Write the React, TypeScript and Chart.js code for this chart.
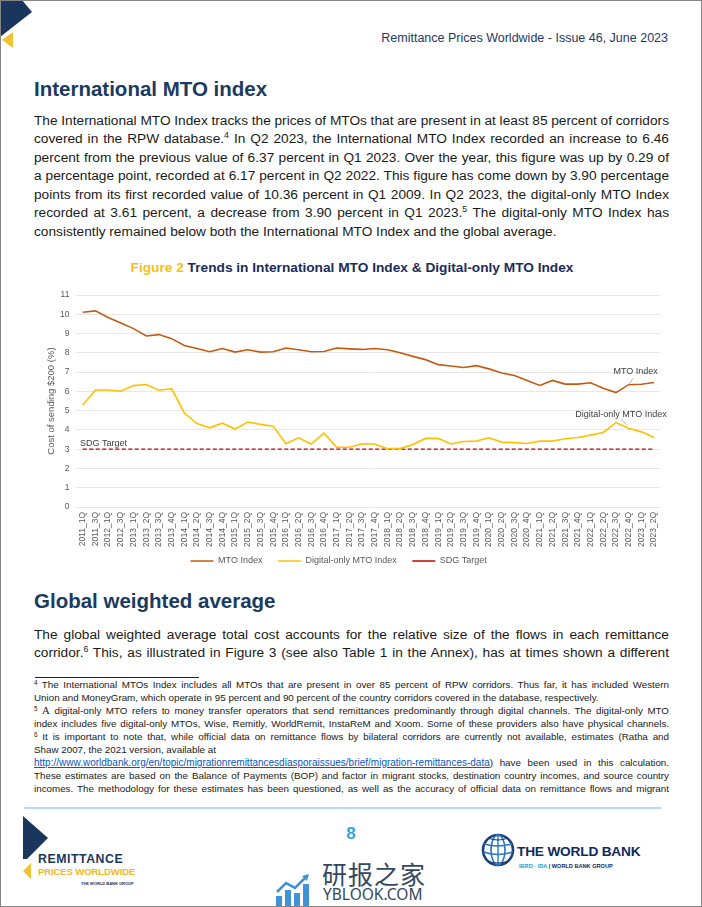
import React, { useEffect, useLayoutEffect, useRef } from 'react';
import { Chart, registerables } from 'chart.js';

Chart.register(...registerables);

const FONT = '"Liberation Sans", Arial, Helvetica, sans-serif';

// ---------- chart data ----------
const categories = [
  '2011_1Q', '2011_3Q', '2012_1Q', '2012_3Q',
  '2013_1Q', '2013_2Q', '2013_3Q', '2013_4Q',
  '2014_1Q', '2014_2Q', '2014_3Q', '2014_4Q',
  '2015_1Q', '2015_2Q', '2015_3Q', '2015_4Q',
  '2016_1Q', '2016_2Q', '2016_3Q', '2016_4Q',
  '2017_1Q', '2017_2Q', '2017_3Q', '2017_4Q',
  '2018_1Q', '2018_2Q', '2018_3Q', '2018_4Q',
  '2019_1Q', '2019_2Q', '2019_3Q', '2019_4Q',
  '2020_1Q', '2020_2Q', '2020_3Q', '2020_4Q',
  '2021_1Q', '2021_2Q', '2021_3Q', '2021_4Q',
  '2022_1Q', '2022_2Q', '2022_3Q', '2022_4Q',
  '2023_1Q', '2023_2Q',
];

const mtoIndex = [
  10.11, 10.18, 9.84, 9.55,
  9.26, 8.88, 8.95, 8.74,
  8.38, 8.23, 8.06, 8.23,
  8.04, 8.16, 8.04, 8.06,
  8.25, 8.16, 8.06, 8.07,
  8.25, 8.21, 8.18, 8.23,
  8.16, 8.01, 7.82, 7.65,
  7.39, 7.32, 7.24, 7.34,
  7.17, 6.96, 6.83, 6.57,
  6.31, 6.57, 6.38, 6.38,
  6.45, 6.17, 5.94, 6.35,
  6.37, 6.46,
];

const digitalOnlyIndex = [
  5.29, 6.07, 6.07, 6.01,
  6.30, 6.36, 6.06, 6.14,
  4.88, 4.33, 4.11, 4.35,
  4.05, 4.41, 4.29, 4.19,
  3.28, 3.59, 3.27, 3.83,
  3.11, 3.10, 3.28, 3.27,
  3.03, 3.03, 3.25, 3.56,
  3.56, 3.27, 3.40, 3.42,
  3.59, 3.37, 3.34, 3.30,
  3.42, 3.42, 3.54, 3.61,
  3.73, 3.87, 4.38, 4.09,
  3.90, 3.61,
];

const sdgTarget = [
  3, 3, 3, 3, 3, 3, 3, 3, 3, 3, 3, 3, 3, 3, 3, 3, 3, 3, 3, 3, 3, 3, 3,
  3, 3, 3, 3, 3, 3, 3, 3, 3, 3, 3, 3, 3, 3, 3, 3, 3, 3, 3, 3, 3, 3, 3,
];

const yTicks = [0, 1, 2, 3, 4, 5, 6, 7, 8, 9, 10, 11];

const seriesNames = ['MTO Index', 'Digital-only MTO Index', 'SDG Target'];

// ---------- chart ----------
const labelPlugin = {
  id: 'seriesLabels',
  afterDatasetsDraw(chart: any) {
    const { ctx, chartArea, scales } = chart;
    const x = scales.x;
    const y = scales.y;
    ctx.save();
    ctx.font = `9px ${FONT}`;
    ctx.fillStyle = '#404040';
    // SDG target label
    ctx.textAlign = 'left';
    ctx.textBaseline = 'alphabetic';
    ctx.fillText('SDG Target', chartArea.left + 3.5, y.getPixelForValue(sdgTarget[0]) - 3.5);

    // MTO Index label
    const iM = categories.indexOf('2022_4Q');
    const mx = x.getPixelForValue(iM);
    const my = y.getPixelForValue(mtoIndex[iM]);
    ctx.strokeStyle = '#a6a6a6';
    ctx.lineWidth = 0.8;
    ctx.beginPath();
    ctx.moveTo(mx, my);
    ctx.lineTo(mx + 4.5, my - 6.5);
    ctx.stroke();
    ctx.textAlign = 'center';
    ctx.textBaseline = 'middle';
    ctx.fillText('MTO Index', mx + 7, my - 13);

    // Digital-only label
    const iD = categories.indexOf('2022_3Q');
    const dx = x.getPixelForValue(iD);
    const dy = y.getPixelForValue(digitalOnlyIndex[iD]);
    ctx.beginPath();
    ctx.moveTo(dx + 5, dy - 3);
    ctx.lineTo(dx + 11.5, dy + 2.5);
    ctx.stroke();
    ctx.fillText('Digital-only MTO Index', dx + 5, dy - 8.5);
    ctx.restore();
  },
};

function TrendChart() {
  const ref = useRef<HTMLCanvasElement>(null);
  useEffect(() => {
    if (!ref.current) return;
    const chart = new Chart(ref.current, {
      type: 'line',
      data: {
        labels: categories,
        datasets: [
          {
            label: seriesNames[0],
            data: mtoIndex,
            borderColor: '#c55a11',
            backgroundColor: '#c55a11',
            borderWidth: 1.6,
            pointRadius: 0,
            tension: 0,
          },
          {
            label: seriesNames[1],
            data: digitalOnlyIndex,
            borderColor: '#ffc000',
            backgroundColor: '#ffc000',
            borderWidth: 1.6,
            pointRadius: 0,
            tension: 0,
          },
          {
            label: seriesNames[2],
            data: sdgTarget,
            borderColor: '#c00000',
            backgroundColor: '#c00000',
            borderWidth: 1.3,
            borderDash: [4, 2.5],
            pointRadius: 0,
            tension: 0,
          },
        ],
      },
      options: {
        animation: false,
        responsive: false,
        maintainAspectRatio: false,
        events: [],
        layout: { padding: { left: 0, right: 20.6, top: 9.7, bottom: 0.5 } },
        plugins: {
          legend: {
            position: 'bottom',
            labels: {
              usePointStyle: true,
              pointStyle: 'line',
              pointStyleWidth: 23,
              boxWidth: 23,
              boxHeight: 9,
              padding: 5.5,
              color: '#595959',
              font: { size: 9, family: FONT },
              generateLabels: (chart: any) => {
                const items = (Chart as any).defaults.plugins.legend.labels.generateLabels(chart);
                items.forEach((it: any, i: number) => {
                  if (i < items.length - 1) it.text = it.text + '\u00a0\u00a0\u00a0\u00a0';
                });
                return items;
              },
            },
          },
          tooltip: { enabled: false },
        },
        scales: {
          x: {
            type: 'category',
            offset: true,
            grid: { display: false, drawTicks: false },
            border: { display: false },
            ticks: {
              autoSkip: false,
              minRotation: 90,
              maxRotation: 90,
              padding: 5,
              color: '#595959',
              font: { size: 8.5, family: FONT },
            },
            afterFit: (s: any) => {
              s.height = 44;
            },
          },
          y: {
            min: yTicks[0],
            max: yTicks[yTicks.length - 1],
            afterBuildTicks: (s: any) => {
              s.ticks = yTicks.map((v) => ({ value: v }));
            },
            grid: { color: '#e7e7e7', drawTicks: false, lineWidth: 1 },
            border: { display: false },
            ticks: {
              padding: 7,
              color: '#595959',
              font: { size: 8.5, family: FONT },
            },
            title: {
              display: true,
              text: 'Cost of sending $200 (%)',
              color: '#595959',
              font: { size: 9.5, family: FONT },
              padding: { top: 28.3, bottom: 0 },
            },
            afterFit: (s: any) => {
              s.width = 59.4;
            },
          },
        },
      },
      plugins: [labelPlugin],
    } as any);
    return () => chart.destroy();
  }, []);
  return (
    <canvas
      ref={ref}
      width={664}
      height={293}
      style={{ position: 'absolute', left: 16, top: 282, width: 664, height: 293 }}
    />
  );
}

// ---------- page text helpers ----------
function JLine({ children, width, justify, lh }: any) {
  const ref = useRef<HTMLSpanElement>(null);
  useLayoutEffect(() => {
    const el = ref.current;
    if (!el) return;
    el.style.wordSpacing = '0px';
    if (!justify) return;
    const w = el.getBoundingClientRect().width;
    const n = (el.textContent || '').split(' ').length - 1;
    if (n > 0) el.style.wordSpacing = `${(width - w) / n}px`;
  }, [width, justify]);
  return (
    <div style={{ whiteSpace: 'nowrap', height: lh, lineHeight: `${lh}px`, width }}>
      <span ref={ref}>{children}</span>
    </div>
  );
}

function Block({ lines, justify, left, top, width, lh, fontSize, color }: any) {
  return (
    <div
      style={{
        position: 'absolute',
        left,
        top,
        width,
        fontSize,
        color,
        fontFamily: FONT,
      }}
    >
      {lines.map((l: any, i: number) => (
        <JLine key={i} width={width} lh={lh} justify={justify[i]}>
          {l}
        </JLine>
      ))}
    </div>
  );
}

const Sup = ({ n }: { n: string }) => (
  <sup style={{ fontSize: '0.64em', lineHeight: 0, verticalAlign: '0.55em' }}>{n}</sup>
);

const abs = (s: any): any => ({ position: 'absolute', ...s });

function Globe() {
  return (
    <svg width={36} height={36} viewBox="0 0 36 36" style={abs({ left: 479, top: 831 })}>
      <circle cx="18" cy="18" r="15" fill="none" stroke="#1d3f7c" strokeWidth="2.6" />
      <ellipse cx="18" cy="18" rx="7" ry="15" fill="none" stroke="#2b78c2" strokeWidth="1.6" />
      <line x1="18" y1="3" x2="18" y2="33" stroke="#2b78c2" strokeWidth="1.4" />
      <path d="M4 12 Q18 16 32 12" fill="none" stroke="#2b78c2" strokeWidth="1.4" />
      <path d="M3.5 20 Q18 25 32.5 20" fill="none" stroke="#2b78c2" strokeWidth="1.4" />
      <path d="M8 6 Q18 10 28 6" fill="none" stroke="#1d3f7c" strokeWidth="1.2" />
      <path d="M7 29 Q18 33 29 29" fill="none" stroke="#1d3f7c" strokeWidth="1.2" />
    </svg>
  );
}

function WatermarkIcon() {
  return (
    <svg width={36} height={34} viewBox="0 0 36 34" style={abs({ left: 274, top: 873 })}>
      <rect x="1" y="22" width="6" height="12" fill="#3f93d6" />
      <rect x="10" y="16" width="6" height="18" fill="#3f93d6" />
      <rect x="19" y="19" width="6" height="15" fill="#3f93d6" />
      <rect x="28" y="10" width="6" height="24" fill="#3f93d6" />
      <polyline points="2,18 11,9 20,14 31,3" fill="none" stroke="#3f93d6" strokeWidth="2.6" />
      <polygon points="27,2 34,0 32,7" fill="#3f93d6" />
    </svg>
  );
}

export default function App() {
  const body = '#1a1a1a';
  const navy = '#1b3a5f';
  const p1 = [
    <>The International MTO Index tracks the prices of MTOs that are present in at least 85 percent of corridors</>,
    <>covered in the RPW database.<Sup n="4" /> In Q2 2023, the International MTO Index recorded an increase to 6.46</>,
    <>percent from the previous value of 6.37 percent in Q1 2023. Over the year, this figure was up by 0.29 of</>,
    <>a percentage point, recorded at 6.17 percent in Q2 2022. This figure has come down by 3.90 percentage</>,
    <>points from its first recorded value of 10.36 percent in Q1 2009. In Q2 2023, the digital-only MTO Index</>,
    <>recorded at 3.61 percent, a decrease from 3.90 percent in Q1 2023.<Sup n="5" /> The digital-only MTO Index has</>,
    <>consistently remained below both the International MTO Index and the global average.</>,
  ];
  const p2 = [
    <>The global weighted average total cost accounts for the relative size of the flows in each remittance</>,
    <>corridor.<Sup n="6" /> This, as illustrated in Figure 3 (see also Table 1 in the Annex), has at times shown a different</>,
  ];
  const fn = [
    <><Sup n="4" /> The International MTOs Index includes all MTOs that are present in over 85 percent of RPW corridors. Thus far, it has included Western</>,
    <>Union and MoneyGram, which operate in 95 percent and 90 percent of the country corridors covered in the database, respectively.</>,
    <><Sup n="5" /> <span style={{ fontFamily: '"Liberation Serif", "Times New Roman", serif', fontSize: '1.1em' }}>A</span> digital-only MTO refers to money transfer operators that send remittances predominantly through digital channels. The digital-only MTO</>,
    <>index includes five digital-only MTOs, Wise, Remitly, WorldRemit, InstaReM and Xoom. Some of these providers also have physical channels.</>,
    <><Sup n="6" /> It is important to note that, while official data on remittance flows by bilateral corridors are currently not available, estimates (Ratha and</>,
    <>Shaw 2007, the 2021 version, available at</>,
    <><span style={{ color: '#0b56c4', textDecoration: 'underline', fontSize: 10 }}>http://www.worldbank.org/en/topic/migrationremittancesdiasporaissues/brief/migration-remittances-data</span>) have been used in this calculation.</>,
    <>These estimates are based on the Balance of Payments (BOP) and factor in migrant stocks, destination country incomes, and source country</>,
    <>incomes. The methodology for these estimates has been questioned, as well as the accuracy of official data on remittance flows and migrant</>,
  ];

  return (
    <div
      style={{
        position: 'absolute',
        left: 0,
        top: 0,
        width: 702,
        height: 907,
        boxSizing: 'border-box',
        border: '1px solid #858585',
        background: '#ffffff',
        overflow: 'hidden',
        fontFamily: FONT,
      }}
    >
      {/* top-left corner marks */}
      <svg width={40} height={60} style={abs({ left: -1, top: -1 })}>
        <polygon points="0,0 22,0 32,12 0,37" fill="#1b365d" />
        <polygon points="13,32 13,48 2,40" fill="#f2c232" />
      </svg>

      {/* running header */}
      <div style={abs({ right: 33, top: 30, fontSize: 12.5, lineHeight: '15px', color: '#1f3864', whiteSpace: 'nowrap' })}>
        Remittance Prices Worldwide - Issue 46, June 2023
      </div>

      <div style={abs({ left: 33, top: 75, fontSize: 20.5, lineHeight: '26px', fontWeight: 700, color: navy, whiteSpace: 'nowrap' })}>
        International MTO index
      </div>

      <Block lines={p1} justify={[true, true, true, true, true, true, false]} left={33} top={110.5} width={635} lh={18.5} fontSize={13.7} color={body} />

      <div style={abs({ left: 0, width: 702, top: 258, textAlign: 'center', fontSize: 13.7, lineHeight: '17px', fontWeight: 700, color: '#1c2c5b', whiteSpace: 'nowrap' })}>
        <span style={{ color: '#f5bf18' }}>Figure 2</span> Trends in International MTO Index &amp; Digital-only MTO Index
      </div>

      <TrendChart />

      <div style={abs({ left: 33, top: 587, fontSize: 20.5, lineHeight: '26px', fontWeight: 700, color: navy, whiteSpace: 'nowrap' })}>
        Global weighted average
      </div>

      <Block lines={p2} justify={[true, true]} left={33} top={624.5} width={635} lh={18.5} fontSize={13.7} color={body} />

      <div style={abs({ left: 34, top: 676, width: 164, height: 1, background: '#222' })} />

      <Block lines={fn} justify={[true, false, true, true, true, false, true, true, true]} left={33} top={677} width={635} lh={13} fontSize={9.8} color={body} />

      <div style={abs({ left: 23, top: 806, width: 637, height: 1.5, background: '#bcd8ef' })} />

      {/* left footer logo */}
      <svg width={30} height={70} style={abs({ left: 21, top: 814 })}>
        <polygon points="1,1 26,23 5,44 1,44" fill="#1b365d" />
        <polygon points="9,48 9,64 1,56" fill="#f2c232" />
      </svg>
      <div style={abs({ left: 37, top: 851, fontSize: 12.3, lineHeight: '14px', fontWeight: 700, color: '#1b365d', letterSpacing: '0.55px', whiteSpace: 'nowrap' })}>
        REMITTANCE
      </div>
      <div style={abs({ left: 37, top: 865, fontSize: 9.6, lineHeight: '11px', fontWeight: 700, color: '#f2b81f', letterSpacing: '-0.15px', whiteSpace: 'nowrap' })}>
        PRICES WORLDWIDE
      </div>
      <div style={abs({ left: 80, top: 880, fontSize: 4, lineHeight: '5px', fontWeight: 700, color: '#1b365d', whiteSpace: 'nowrap' })}>
        THE WORLD BANK GROUP
      </div>

      {/* page number */}
      <div style={abs({ left: 330, width: 40, top: 822, textAlign: 'center', fontSize: 17, lineHeight: '22px', fontWeight: 700, color: '#29a8e0' })}>
        8
      </div>

      {/* World Bank logo */}
      <Globe />
      <div style={abs({ left: 516, top: 842, fontSize: 13.7, lineHeight: '17px', fontWeight: 700, color: '#0d2b5c', letterSpacing: '-0.2px', whiteSpace: 'nowrap' })}>
        THE WORLD BANK
      </div>
      <div style={abs({ left: 518, top: 862, fontSize: 5.6, lineHeight: '7px', fontWeight: 700, color: '#0d2b5c', whiteSpace: 'nowrap' })}>
        <span style={{ color: '#1a9ad9' }}>IBRD · IDA</span> | WORLD BANK GROUP
      </div>

      {/* watermark */}
      <WatermarkIcon />
      <div style={abs({ left: 321, top: 858, fontSize: 25, lineHeight: '28px', color: '#34495e', fontFamily: '"Noto Sans CJK SC", sans-serif', letterSpacing: '1px', whiteSpace: 'nowrap' })}>
        研报之家
      </div>
      <div style={abs({ left: 322, top: 884, fontSize: 15.5, lineHeight: '18px', color: '#34495e', fontFamily: '"Noto Sans", sans-serif', whiteSpace: 'nowrap' })}>
        YBLOOK.COM
      </div>
    </div>
  );
}
